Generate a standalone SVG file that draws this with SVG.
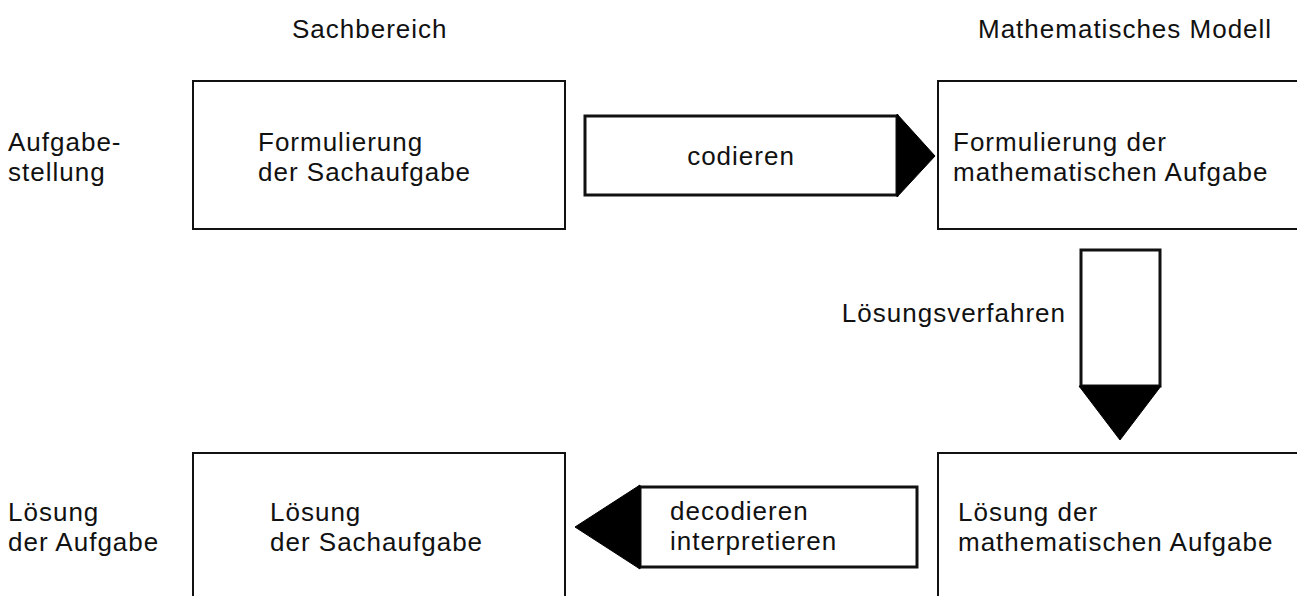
<svg xmlns="http://www.w3.org/2000/svg" width="1297" height="596" viewBox="0 0 1297 596">
<style>
text{font-family:"Liberation Sans",Arial,sans-serif;font-size:26px;fill:#111;letter-spacing:1px}
.box{fill:#fff;stroke:#111;stroke-width:2}
.arr{fill:#fff;stroke:#111;stroke-width:3}
.head{fill:#000;stroke:#000;stroke-width:1}
</style>
<rect width="1297" height="596" fill="#fff"/>
<g id="labels">
<text x="292" y="38">Sachbereich</text>
<text x="978" y="38">Mathematisches Modell</text>
<text x="8" y="151">Aufgabe-</text>
<text x="8" y="181">stellung</text>
<text x="8" y="521">Lösung</text>
<text x="8" y="551">der Aufgabe</text>
</g>
<g id="n1">
<rect class="box" x="193" y="81" width="372" height="148"/>
<text x="258" y="151">Formulierung</text>
<text x="258" y="181">der Sachaufgabe</text>
</g>
<g id="n2">
<rect class="box" x="938" y="81" width="370" height="148"/>
<text x="953" y="151">Formulierung der</text>
<text x="953" y="181">mathematischen Aufgabe</text>
</g>
<g id="n3">
<rect class="box" x="193" y="453" width="372" height="160"/>
<text x="270" y="521">Lösung</text>
<text x="270" y="551">der Sachaufgabe</text>
</g>
<g id="n4">
<rect class="box" x="938" y="453" width="370" height="160"/>
<text x="958" y="521">Lösung der</text>
<text x="958" y="551">mathematischen Aufgabe</text>
</g>
<g id="connectors">
<g id="codieren">
<rect class="arr" x="585" y="116" width="312" height="79"/>
<polygon class="head" points="897,114 935,156 897,197"/>
<text x="741" y="165" text-anchor="middle">codieren</text>
</g>
<g id="loesungsverfahren">
<rect class="arr" x="1081" y="250" width="79" height="136"/>
<polygon class="head" points="1079,386 1161,386 1120,440"/>
<text x="1066" y="322" text-anchor="end">Lösungsverfahren</text>
</g>
<g id="decodieren">
<rect class="arr" x="640" y="487" width="277" height="80"/>
<polygon class="head" points="640,485 575,527 640,569"/>
<text x="670" y="520">decodieren</text>
<text x="670" y="550">interpretieren</text>
</g>
</g>
</svg>
